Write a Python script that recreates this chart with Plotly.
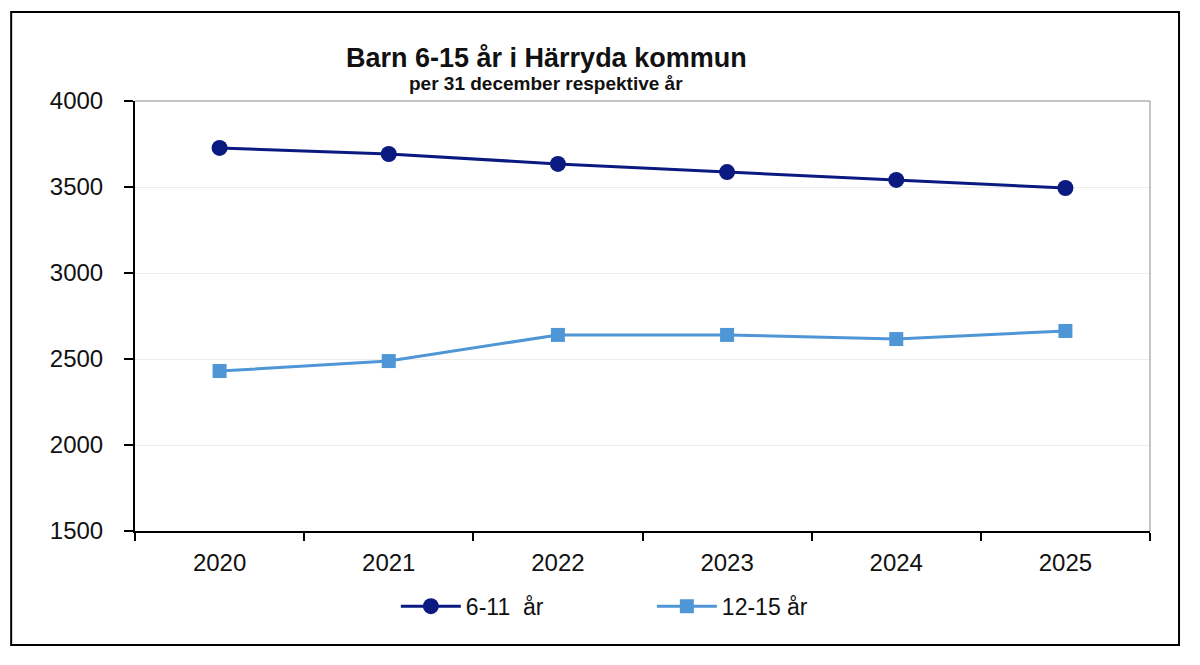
import plotly.graph_objects as go

years = ["2020", "2021", "2022", "2023", "2024", "2025"]
barn_6_11 = [3727, 3692, 3634, 3587, 3541, 3494]
barn_12_15 = [2430, 2488, 2640, 2640, 2616, 2663]
y_ticks = [1500, 2000, 2500, 3000, 3500, 4000]

font = "Liberation Sans, Arial, sans-serif"

fig = go.Figure()
fig.add_trace(go.Scatter(
    x=years, y=barn_6_11, name="6-11  år", mode="lines+markers",
    line=dict(color="#0a1a80", width=3),
    marker=dict(symbol="circle", size=16, color="#0a1a80"),
))
fig.add_trace(go.Scatter(
    x=years, y=barn_12_15, name="12-15 år", mode="lines+markers",
    line=dict(color="#4f96d6", width=3),
    marker=dict(symbol="square", size=14, color="#4f96d6"),
))

fig.update_layout(
    width=1185, height=650,
    margin=dict(l=127, r=43, t=93, b=127),
    paper_bgcolor="white", plot_bgcolor="white",
    font=dict(family=font, size=24, color="#111111"),
    showlegend=True,
    legend=dict(orientation="h", x=0.257, xanchor="left", y=-0.175, yanchor="middle",
                font=dict(size=23), itemwidth=60, tracegroupgap=0,
                entrywidth=181),
    annotations=[
        dict(text="<b>Barn 6-15 år i Härryda kommun</b>", xref="paper", yref="paper",
             x=0.405, y=1.10, xanchor="center", yanchor="middle", showarrow=False,
             font=dict(size=27, family=font, color="#111111")),
        dict(text="<b>per 31 december respektive år</b>", xref="paper", yref="paper",
             x=0.405, y=1.04, xanchor="center", yanchor="middle", showarrow=False,
             font=dict(size=19, family=font, color="#111111")),
    ],
    shapes=[
        dict(type="rect", xref="paper", yref="paper", x0=-0.122, x1=1.0286,
             y0=-0.265, y1=1.207, line=dict(color="black", width=2)),
        dict(type="line", xref="paper", yref="paper", x0=0, x1=1, y0=1, y1=1,
             line=dict(color="#b0b0b0", width=1.5)),
        dict(type="line", xref="paper", yref="paper", x0=1, x1=1, y0=0, y1=1,
             line=dict(color="#b0b0b0", width=1.5)),
    ],
)

fig.update_xaxes(
    type="category", range=[-0.5, 5.5], tickson="boundaries",
    ticks="outside", ticklen=8, tickwidth=1.5, tickcolor="black",
    showline=True, linecolor="black", linewidth=2, showgrid=False,
    tickfont=dict(size=24), ticklabelstandoff=9,
)
fig.update_yaxes(
    range=[1500, 4000], tickvals=y_ticks, ticks="outside", ticklen=9,
    tickwidth=1.5, tickcolor="black", showline=True, linecolor="black",
    linewidth=2, showgrid=True, gridcolor="#ececec", gridwidth=1,
    zeroline=False, tickfont=dict(size=24), ticklabelstandoff=16,
)

fig.write_html("out.html")
